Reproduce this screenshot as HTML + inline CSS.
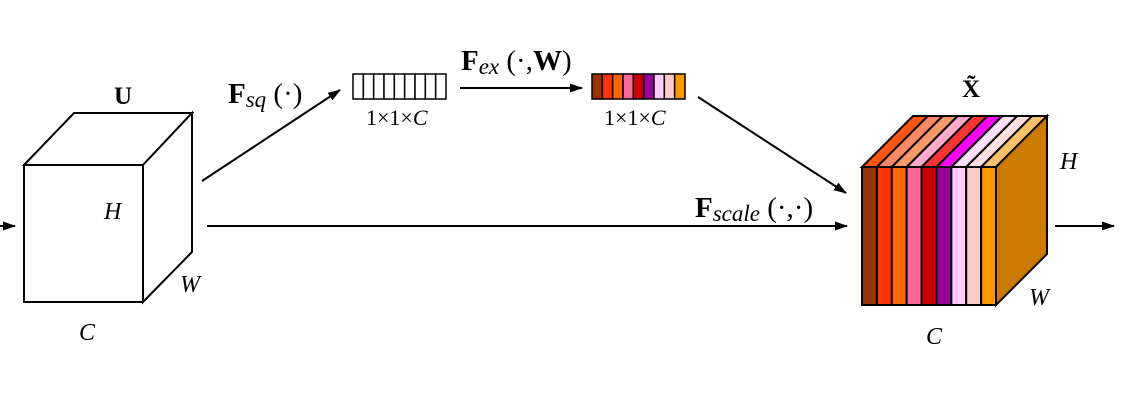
<!DOCTYPE html>
<html><head><meta charset="utf-8"><style>
html,body{margin:0;padding:0;background:#fff}
svg{display:block}
text{font-family:"Liberation Serif",serif;fill:#000}
</style></head><body>
<svg id="d" width="1121" height="401" viewBox="0 0 1121 401">
<defs><marker id="ah" markerWidth="13" markerHeight="9" refX="12" refY="4.5" orient="auto" markerUnits="userSpaceOnUse"><path d="M0,0 L13,4.5 L0,9 z" fill="#000"/></marker></defs>
<g stroke="#000" stroke-width="2">
<line x1="0" y1="226" x2="15" y2="226" marker-end="url(#ah)"/>
<line x1="202" y1="181" x2="340" y2="90" marker-end="url(#ah)"/>
<line x1="460" y1="88" x2="582" y2="88" marker-end="url(#ah)"/>
<line x1="698" y1="97" x2="846" y2="193" marker-end="url(#ah)"/>
<line x1="207" y1="226" x2="847" y2="226" marker-end="url(#ah)"/>
<line x1="1055" y1="226" x2="1114" y2="226" marker-end="url(#ah)"/>
</g>
<g fill="#fff" stroke="#000" stroke-width="2" stroke-linejoin="miter">
<polygon points="24,165 74,113 192,113 143,165"/>
<polygon points="143,165 192,113 192,252 143,302"/>
<rect x="24" y="165" width="119" height="137"/>
</g>
<g id="strips"></g>
<text x="114" y="104" font-size="25" font-weight="bold">U</text>
<text x="104" y="219" font-size="24" font-style="italic">H</text>
<text x="180" y="292" font-size="24" font-style="italic">W</text>
<text x="79" y="340" font-size="24" font-style="italic">C</text>
<text x="228" y="103" font-size="29"><tspan font-weight="bold">F</tspan><tspan font-style="italic" font-size="23" dy="4">sq</tspan><tspan dy="-4"> (·)</tspan></text>
<text x="461" y="70" font-size="29"><tspan font-weight="bold">F</tspan><tspan font-style="italic" font-size="23" dy="4">ex</tspan><tspan dy="-4"> (·,</tspan><tspan font-weight="bold">W</tspan><tspan>)</tspan></text>
<text x="366" y="125" font-size="22">1×1×<tspan font-style="italic">C</tspan></text>
<text x="604" y="125" font-size="22">1×1×<tspan font-style="italic">C</tspan></text>
<text x="695" y="217" font-size="29"><tspan font-weight="bold">F</tspan><tspan font-style="italic" font-size="23" dy="4">scale</tspan><tspan dy="-4"> (·,·)</tspan></text>
<text x="962" y="97" font-size="25" font-weight="bold">X̃</text>
<text x="1060" y="169" font-size="24" font-style="italic">H</text>
<text x="1029" y="305" font-size="24" font-style="italic">W</text>
<text x="926" y="344" font-size="24" font-style="italic">C</text>
</svg>
<script>
const frontColors=["#993300","#ff3300","#ff6600","#ff6699","#cc0000","#990099","#ffccff","#ffcccc","#ff9900"];
const topColors=["#ff5511","#ff8866","#ff9966","#ffaacc","#ff3333","#ff00ff","#ffe0ff","#ffe0e0","#ffc266"];
const NS="http://www.w3.org/2000/svg";
const g=document.getElementById('strips');
function mk(tag,attrs,name){const e=document.createElementNS(NS,tag);for(const k in attrs)e.setAttribute(k,attrs[k]);


g.appendChild(e);return e;}
const n=frontColors.length;
const vw=(446-353)/n;
for(let i=0;i<n;i++){
 mk('rect',{x:353+i*vw,y:74,width:vw,height:25,fill:'#fff',stroke:'#000','stroke-width':1.5},'squeezed-cell');
 mk('rect',{x:592+i*vw,y:74,width:vw,height:25,fill:frontColors[i],stroke:'#000','stroke-width':1.5},'excited-cell');
}
const fx=862,fy=167,fw=134,fh=138,dx=51,dy=-51,sw=fw/n;
for(let i=0;i<n;i++){
 const x0=fx+i*sw,x1=x0+sw;
 mk('polygon',{points:`${x0},${fy} ${x0+dx},${fy+dy} ${x1+dx},${fy+dy} ${x1},${fy}`,fill:topColors[i],stroke:'#000','stroke-width':2},'top-strip');
 mk('rect',{x:x0,y:fy,width:sw,height:fh,fill:frontColors[i],stroke:'#000','stroke-width':2},'front-strip');
}
mk('polygon',{points:`${fx+fw},${fy} ${fx+fw+dx},${fy+dy} ${fx+fw+dx},${fy+fh+dy} ${fx+fw},${fy+fh}`,fill:'#cc7a00',stroke:'#000','stroke-width':2},'side-face');
</script>
</body></html>
